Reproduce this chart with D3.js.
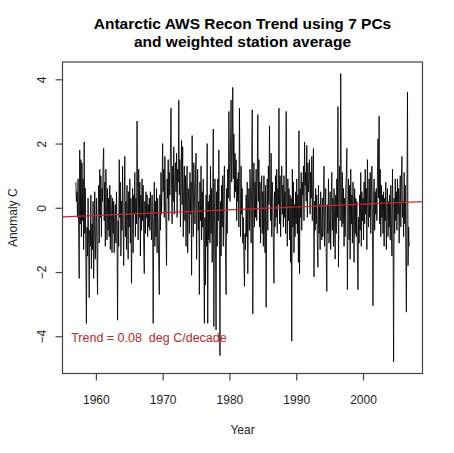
<!DOCTYPE html>
<html>
<head>
<meta charset="utf-8">
<script src="https://cdn.jsdelivr.net/npm/d3@7"></script>
<style>
  body { margin: 0; background: #fff; }
  text { font-family: "Liberation Sans", Arial, sans-serif; }
</style>
</head>
<body>
<div id="chart"></div>
<script>
// monthly anomalies, starting Jan 1957
let startYear = 1957;

let anom1950s = [
  0.8, 0.2, 0.5, -0.3, 0.9, -0.6, -2.2, 1.8, -0.5, 1.5, -0.9, 1.4,
  -0.4, 0.9, -1.3, 2.05, -0.8, 0.6, -1.7, -3.6, -0.6, -1.5, 0.3, -1.1,
  -2.8, -0.7, -1.2, 0.4, -1.9, -0.5, -1.3, 0.2, -2.2, -0.9, 0.5, -1.6
];
let anom1960s = [
  -0.8, 0.3, -1.4, -2.7, -0.2, 0.7, -1.1, 1.2, -0.3, 1.0, -0.9, 0.6,
  0.2, 1.4, 1.85, -0.4, 0.8, -1.2, 1.2, 0.1, -1.0, 0.6, -0.7, 0.3,
  -0.9, 0.7, -1.3, 0.4, -0.2, -1.4, 0.3, -0.8, 0.2, -1.4, -0.3, 0.1,
  -1.1, 0.5, -0.6, -3.5, -0.4, -1.2, 1.5, -0.3, 0.8, -1.5, 0.2, -0.7,
  1.3, -0.5, -1.8, 0.4, 1.6, -0.9, 0.2, -1.3, 0.7, -0.4, -1.6, 0.5,
  -0.6, 0.9, -1.1, 0.3, -2.35, -0.8, 0.6, -1.4, 0.4, -0.2, 1.1, -0.9,
  0.3, -0.5, 2.7, 0.6, -1.0, 1.2, -0.3, 0.8, -1.5, 0.4, -0.7, 0.9,
  -0.4, 0.7, -1.2, -2.05, 0.2, -0.8, 0.5, -0.3, 0.4, -0.9, 0.1, -0.6,
  0.3, -0.7, 0.5, -0.2, -1.0, 0.4, -0.6, -3.6, -0.3, 0.8, -1.2, 0.2,
  -0.9, 0.6, -1.4, 0.3, -0.5, -1.8, -2.7, 0.4, -0.7, 1.1, -0.2, 0.7
];
let anom1970s = [
  2.0, 0.5, 1.2, -0.3, 1.6, 0.2, -0.6, -1.8, 0.9, 0.3, 1.5, -0.4,
  1.1, 0.4, 1.8, 3.1, 0.6, -0.5, 1.3, 0.2, 1.9, -0.2, 0.8, 1.4,
  0.5, 1.7, -0.3, 1.2, 0.8, 3.35, 0.4, 1.5, -0.6, 0.9, 2.1, 0.1,
  1.9, -0.9, 0.7, 1.3, -0.4, 1.0, -1.2, 0.5, 1.3, -1.4, 0.6, 0.2,
  -0.8, 1.1, -0.2, 0.8, -2.1, 2.25, 0.3, -0.9, 1.4, 0.6, -0.5, 1.0,
  1.7, -1.6, 0.4, 1.2, -0.7, 0.2, -2.7, 0.8, -0.4, 1.3, -1.0, 0.5,
  -0.6, 0.9, -1.5, -3.6, -0.3, -2.4, 0.4, -1.2, 2.0, -3.6, 0.2, -1.0,
  0.4, -1.1, 1.3, -0.8, 0.6, -1.7, 0.3, 2.45, -3.7, -0.5, 0.9, -1.3,
  -3.8, 0.5, -1.2, 0.9, -0.4, 1.8, -1.0, -4.6, 0.2, -1.5, 0.7, -0.6,
  1.0, -1.2, 0.5, 1.3, -0.3, -1.4, -2.7, 0.6, -0.8, 1.2, 0.3, 3.0
];
let anom1980s = [
  1.4, 0.2, 2.1, 3.35, 0.8, 1.6, 3.75, 0.9, 2.3, 0.3, 1.7, 0.5,
  1.5, -0.4, 0.9, 0.2, 1.1, -0.6, 3.1, 0.7, -0.9, 1.3, -0.2, 0.6,
  -1.1, -0.3, -1.6, -2.45, -0.8, -1.3, 0.4, -0.9, 0.8, -2.05, -0.2, 0.6,
  -0.7, 1.2, 0.3, -1.1, 0.9, 3.05, -3.3, 0.4, 1.4, -0.6, 0.8, -0.3,
  1.2, -0.4, 0.9, 2.9, 0.2, 1.5, -0.6, 0.8, -1.1, 0.4, 1.0, -0.8,
  0.5, -1.2, 1.0, -0.3, -1.4, 0.7, -3.1, -0.2, 0.9, -0.7, 1.3, 0.1,
  2.55, 0.6, -0.4, 1.7, -0.9, 0.8, 0.2, -1.1, -2.35, 0.5, -0.6, 1.0,
  -0.3, 1.2, -0.8, 0.6, 0.1, 3.1, -0.5, 1.0, -0.9, 0.4, 1.3, -0.2,
  0.7, -0.6, 1.0, -0.3, 0.5, -0.8, 3.0, 0.2, -1.2, 0.9, -0.4, 0.6,
  -1.0, 0.4, -1.7, 0.3, -4.15, 1.2, -0.6, 0.8, -1.4, 0.1, -0.9, 0.5
];
let anom1990s = [
  -0.5, 0.9, -0.8, 0.4, -1.7, 2.4, -2.05, 0.6, -0.3, 1.1, -0.7, 0.8,
  0.4, 1.3, -0.4, 2.05, 0.7, 1.1, 0.2, 1.95, -0.3, 1.4, 0.5, 0.9,
  1.5, -0.2, 1.1, 0.3, 1.6, -0.4, 0.8, 1.85, -2.15, 0.2, -0.7, 0.6,
  -0.5, 0.4, -1.1, -1.85, 0.7, -0.8, 0.1, -1.3, 0.5, -0.6, -1.0, 0.3,
  -0.9, 0.2, 1.3, -1.2, -0.3, 0.6, -1.5, -2.6, 0.1, -0.8, 0.9, -1.1,
  -0.4, 0.5, -1.3, 0.2, 1.1, -0.7, 0.3, -1.2, 0.6, -0.5, -1.6, 0.4,
  -0.8, 0.9, -0.3, 3.15, -1.85, 0.7, 1.3, -0.4, 4.18, 0.8, -0.6, 1.1,
  -0.5, 0.6, -1.2, 0.3, -0.9, 0.5, 1.0, 1.85, -2.55, -0.3, 0.9, -1.0,
  0.7, -1.6, 1.2, -0.5, 0.4, -1.1, 0.8, -0.2, -1.7, 0.6, -0.8, 0.3,
  -0.9, 0.2, -1.4, -2.55, -0.3, -1.1, 0.4, -0.7, 1.1, -1.2, 0.5, -0.4
];
let anom2000s = [
  0.3, -1.0, 0.8, -0.5, 1.2, -0.2, 0.6, -1.3, 1.5, 0.1, -0.6, 0.9,
  -0.3, 1.1, -0.8, 0.4, 1.3, -0.5, -3.05, 0.2, 0.9, -0.7, 0.5, -0.2,
  0.6, -0.4, 1.0, 2.15, 0.3, 2.85, -0.5, 1.2, -0.9, 0.7, -0.3, 0.4,
  -0.8, 0.5, -1.2, 0.3, -0.4, 0.8, -1.3, -0.1, 0.6, -0.9, 0.2, -0.6,
  0.4, -1.0, 0.7, -0.5, -1.5, 1.2, -0.3, -4.8, 0.3, -0.8, 0.9, -0.4,
  0.5, -0.7, 0.9, -0.2, 0.6, -1.1, 0.4, 1.0, -0.6, 0.8, 1.6, -0.3,
  0.2, -0.9, 1.1, -0.5, 0.7, -1.4, -3.25, 0.5, 3.6, -1.8, -0.6, -1.2
];

let anomaly = [].concat(anom1950s, anom1960s, anom1970s, anom1980s, anom1990s, anom2000s);

let yearTicks = [1960, 1970, 1980, 1990, 2000];
let anomTicks = [-4, -2, 0, 2, 4];

// fitted trend, deg C per year, and its value at 1955
let trendPerYear = 0.0088;
let trendAt1955 = -0.28;

let titleLines = ["Antarctic AWS Recon Trend using 7 PCs", "and weighted station average"];
let trendLabel = "Trend = 0.08  deg C/decade";

let width = 454, height = 453;
let box = {left: 62.5, right: 422.5, top: 62, bottom: 373.5};

// R pads the data range by 4% on each side
function rpad(ext) {
  let d = (ext[1] - ext[0]) * 0.04;
  return [ext[0] - d, ext[1] + d];
}

let years = anomaly.map((d, i) => startYear + i / 12);

let x = d3.scaleLinear()
  .domain(rpad(d3.extent(years)))
  .range([box.left, box.right]);
let y = d3.scaleLinear()
  .domain(rpad(d3.extent(anomaly)))
  .range([box.bottom, box.top]);

let svg = d3.select("#chart").append("svg")
  .attr("width", width)
  .attr("height", height);

svg.append("defs").append("clipPath").attr("id", "plotclip")
  .append("rect")
    .attr("x", box.left)
    .attr("y", box.top)
    .attr("width", box.right - box.left)
    .attr("height", box.bottom - box.top);

// data
let line = d3.line()
  .x((d, i) => x(years[i]))
  .y(d => y(d));

svg.append("path")
  .datum(anomaly)
  .attr("d", line)
  .attr("fill", "none")
  .attr("stroke", "#000")
  .attr("stroke-width", 0.85)
  .attr("stroke-linejoin", "round");

// trend line across the whole plot region
let xd = x.domain();
svg.append("line")
  .attr("clip-path", "url(#plotclip)")
  .attr("x1", x(xd[0]))
  .attr("x2", x(xd[1]))
  .attr("y1", y(trendAt1955 + trendPerYear * (xd[0] - 1955)))
  .attr("y2", y(trendAt1955 + trendPerYear * (xd[1] - 1955)))
  .attr("stroke", "#c42a2a")
  .attr("stroke-width", 1.2);

svg.append("text")
  .attr("x", x(1956.3))
  .attr("y", y(-4))
  .attr("dy", "0.42em")
  .attr("fill", "#b52a2a")
  .attr("font-size", 12.5)
  .style("white-space", "pre")
  .text(trendLabel);

// frame
svg.append("rect")
  .attr("x", box.left)
  .attr("y", box.top)
  .attr("width", box.right - box.left)
  .attr("height", box.bottom - box.top)
  .attr("fill", "none")
  .attr("stroke", "#444")
  .attr("stroke-width", 1.2);

// x axis
let xAxis = svg.append("g")
  .attr("transform", `translate(0,${box.bottom})`)
  .call(d3.axisBottom(x).tickValues(yearTicks).tickSize(7).tickFormat(d3.format("d")));
xAxis.select(".domain").remove();
xAxis.selectAll("line").attr("stroke", "#444").attr("stroke-width", 1.2);
xAxis.selectAll("text")
  .attr("y", 30)
  .attr("dy", 0)
  .attr("fill", "#222")
  .attr("font-size", 12)
  .attr("font-family", null);

// y axis, labels parallel to the axis like R
let yAxis = svg.append("g")
  .attr("transform", `translate(${box.left},0)`)
  .call(d3.axisLeft(y).tickValues(anomTicks).tickSize(7).tickFormat(d3.format("d")));
yAxis.select(".domain").remove();
yAxis.selectAll("line").attr("stroke", "#444").attr("stroke-width", 1.2);
yAxis.selectAll("text")
  .attr("x", 0)
  .attr("dy", 0)
  .attr("text-anchor", "middle")
  .attr("transform", "translate(-16.5,0) rotate(-90)")
  .attr("fill", "#222")
  .attr("font-size", 12)
  .attr("font-family", null);

// axis titles
svg.append("text")
  .attr("x", (box.left + box.right) / 2)
  .attr("y", 434)
  .attr("text-anchor", "middle")
  .attr("fill", "#222")
  .attr("font-size", 12)
  .text("Year");

svg.append("text")
  .attr("transform", `translate(17,${(box.top + box.bottom) / 2}) rotate(-90)`)
  .attr("text-anchor", "middle")
  .attr("fill", "#222")
  .attr("font-size", 12)
  .text("Anomaly C");

// title
svg.selectAll(".title")
  .data(titleLines)
  .enter()
  .append("text")
    .attr("class", "title")
    .attr("x", (box.left + box.right) / 2)
    .attr("y", (d, i) => 28.5 + i * 18)
    .attr("text-anchor", "middle")
    .attr("font-weight", "bold")
    .attr("font-size", 15.5)
    .attr("fill", "#000")
    .text(d => d);
</script>
</body>
</html>
